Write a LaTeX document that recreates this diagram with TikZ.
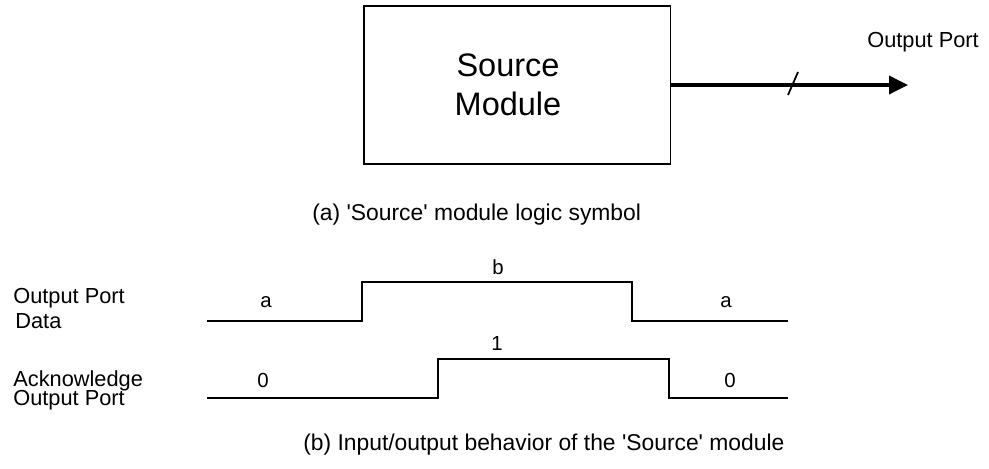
\documentclass[tikz,border=0pt]{standalone}
\usepackage{fontspec}
\setmainfont{Liberation Sans}
\usepackage{tikz}
\usetikzlibrary{arrows.meta}

\begin{document}
\begin{tikzpicture}[x=0.02cm,y=-0.02cm,>={Triangle[length=0.38cm,width=0.36cm]},
                    module node/.style={draw,line width=1.1pt,minimum width=6.14cm,minimum height=3.16cm},
                    big text/.style={font=\fontsize{18.5}{22.2}\selectfont,align=center},
                    port text/.style={font=\fontsize{12.4}{14}\selectfont,anchor=base west,inner sep=0pt},
                    value text/.style={font=\fontsize{11.6}{13}\selectfont,inner sep=0pt},
                    caption text/.style={font=\fontsize{13}{15}\selectfont,anchor=west,inner sep=0pt},
                    wave/.style={line width=1.1pt}]
  \useasboundingbox (0,0) rectangle (989,469);

  % (a) logic symbol
  \node[module node] (src) at (517,85) {};
  \node[big text] (srcname) at (508,85) {Source\\Module};
  \coordinate (outend) at (908,85);
  \coordinate (tick) at (793,84);
  \node[port text] (outname) at (867,48) {Output Port};
  \draw[->,line width=2pt] (src.east) -- (outend);
  \draw[line width=1pt] (tick) ++(-5,11) -- ++(10,-23);
  \node[caption text] (capa) at (312,215) {(a) \textquotesingle Source\textquotesingle\ module logic symbol};

  % (b) waveforms
  \node[port text] (datalbl1) at (13,303) {Output Port};
  \node[port text] (datalbl2) at (15,328) {Data};
  \node[port text] (acklbl1) at (13,386) {Acknowledge};
  \node[port text] (acklbl2) at (13,405) {Output Port};

  \draw[wave] (207,321) -- (362,321) -- (362,282) -- (632,282) -- (632,321) -- (788,321);
  \draw[wave] (207,398) -- (438,398) -- (438,359) -- (669,359) -- (669,398) -- (788,398);

  \node[value text] (dataa) at (266,302) {a};
  \node[value text] (datab) at (498,267) {b};
  \node[value text] (dataa2) at (726,302) {a};
  \node[value text] (ack0) at (263,380) {0};
  \node[value text] (ack1) at (497,343) {1};
  \node[value text] (ack02) at (730,380) {0};

  \node[caption text] (capb) at (303,445) {(b) Input/output behavior of the \textquotesingle Source\textquotesingle\ module};
\end{tikzpicture}
\end{document}
